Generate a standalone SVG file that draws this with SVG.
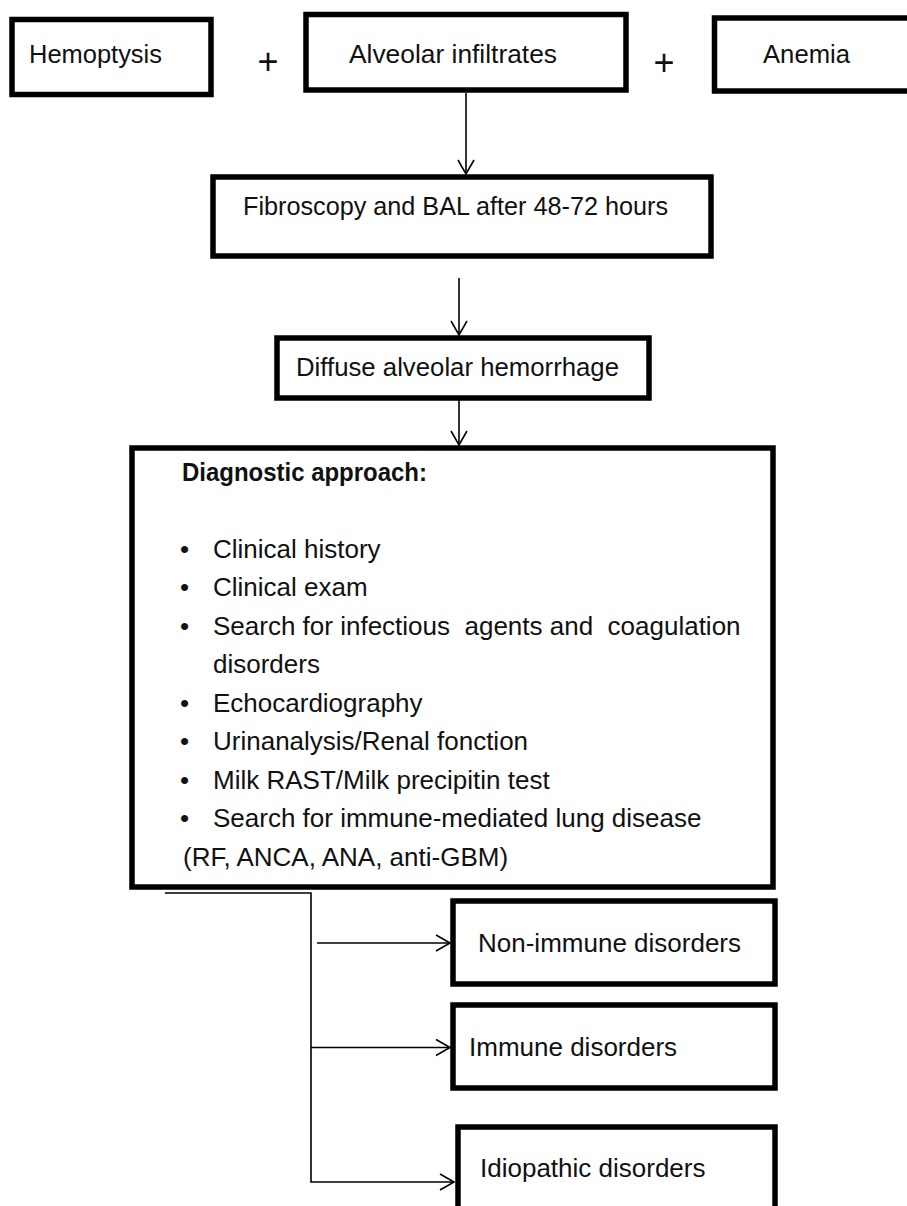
<svg xmlns="http://www.w3.org/2000/svg" width="907" height="1206" viewBox="0 0 907 1206">
<defs>
<style>
.box{fill:#fff;stroke:#000;stroke-width:5.5}
.t{font-family:"Liberation Sans",Arial,sans-serif;font-size:26px;fill:#111}
.b{font-weight:bold}
.c{fill:none;stroke:#000;stroke-width:1.6}
.plus{font-family:"Liberation Sans",Arial,sans-serif;font-size:36px;fill:#111;text-anchor:middle}
</style>
<marker id="v" markerWidth="20" markerHeight="20" viewBox="-16 -10 20 20" refX="0" refY="0" orient="auto" markerUnits="userSpaceOnUse">
<path d="M-14,-8 L0,0 L-14,8" fill="none" stroke="#000" stroke-width="1.6"/>
</marker>
</defs>
<rect width="907" height="1206" fill="#fff"/>
<g id="connectors">
<line class="c" x1="466" y1="93" x2="466" y2="174" marker-end="url(#v)"/>
<line class="c" x1="459" y1="278" x2="459" y2="335" marker-end="url(#v)"/>
<line class="c" x1="459" y1="399" x2="459" y2="445" marker-end="url(#v)"/>
<polyline class="c" points="165,893 311,893 311,1182 454,1182" marker-end="url(#v)"/>
<line class="c" x1="317" y1="943" x2="450" y2="943" marker-end="url(#v)"/>
<line class="c" x1="311" y1="1047.5" x2="450" y2="1047.5" marker-end="url(#v)"/>
</g>
<g id="plus-signs">
<text class="plus" x="268" y="74">+</text>
<text class="plus" x="664" y="75">+</text>
</g>
<g id="hemoptysis">
<rect class="box" x="12" y="19.5" width="199" height="75"/>
<text class="t" x="29" y="63" textLength="133" lengthAdjust="spacingAndGlyphs">Hemoptysis</text>
</g>
<g id="alveolar-infiltrates">
<rect class="box" x="306" y="14.5" width="320" height="75.5"/>
<text class="t" x="349" y="63" textLength="208" lengthAdjust="spacingAndGlyphs">Alveolar infiltrates</text>
</g>
<g id="anemia">
<rect class="box" x="714.5" y="18" width="210" height="73"/>
<text class="t" x="763" y="63" textLength="87" lengthAdjust="spacingAndGlyphs">Anemia</text>
</g>
<g id="fibroscopy">
<rect class="box" x="213" y="177" width="498" height="79"/>
<text class="t" x="243" y="215" textLength="425" lengthAdjust="spacingAndGlyphs">Fibroscopy and BAL after 48-72 hours</text>
</g>
<g id="diffuse-alveolar-hemorrhage">
<rect class="box" x="277" y="338" width="372" height="60"/>
<text class="t" x="296" y="376" textLength="323" lengthAdjust="spacingAndGlyphs">Diffuse alveolar hemorrhage</text>
</g>
<g id="diagnostic-approach">
<rect class="box" x="132" y="448" width="641" height="439"/>
<text class="t b" x="182" y="481" textLength="245" lengthAdjust="spacingAndGlyphs">Diagnostic approach:</text>
<g class="t">
<text x="180" y="558">•</text><text x="213" y="558">Clinical history</text>
<text x="180" y="596">•</text><text x="213" y="596">Clinical exam</text>
<text x="180" y="635">•</text><text x="213" y="635" xml:space="preserve">Search for infectious  agents and  coagulation</text>
<text x="213" y="673">disorders</text>
<text x="180" y="712">•</text><text x="213" y="712">Echocardiography</text>
<text x="180" y="750">•</text><text x="213" y="750">Urinanalysis/Renal fonction</text>
<text x="180" y="789">•</text><text x="213" y="789">Milk RAST/Milk precipitin test</text>
<text x="180" y="827">•</text><text x="213" y="827">Search for immune-mediated lung disease</text>
<text x="183" y="866">(RF, ANCA, ANA, anti-GBM)</text>
</g>
</g>
<g id="non-immune-disorders">
<rect class="box" x="453" y="901" width="322" height="83"/>
<text class="t" x="478" y="952" textLength="263" lengthAdjust="spacingAndGlyphs">Non-immune disorders</text>
</g>
<g id="immune-disorders">
<rect class="box" x="453" y="1005" width="322" height="83"/>
<text class="t" x="469" y="1056">Immune disorders</text>
</g>
<g id="idiopathic-disorders">
<rect class="box" x="458" y="1127" width="317" height="95"/>
<text class="t" x="480" y="1177">Idiopathic disorders</text>
</g>
</svg>
